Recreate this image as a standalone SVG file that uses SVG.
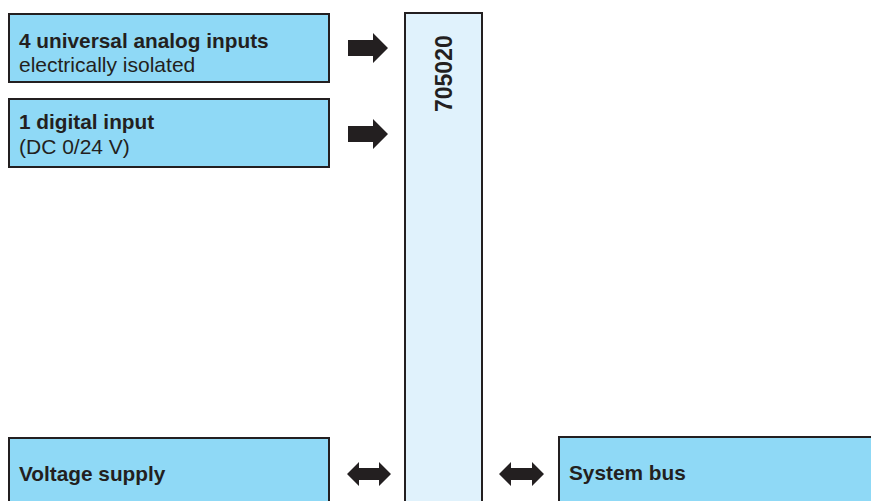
<svg xmlns="http://www.w3.org/2000/svg" width="871" height="501" viewBox="0 0 871 501">
<defs>
<style>
.box{fill:#8fd9f6;stroke:#231f20;stroke-width:2}
.bar{fill:#e0f2fc;stroke:#231f20;stroke-width:2}
.arr{fill:#231f20}
.b{font-family:"Liberation Sans",Arial,sans-serif;font-weight:bold;font-size:20.8px;fill:#231f20}
.r{font-family:"Liberation Sans",Arial,sans-serif;font-size:21px;fill:#231f20}
</style>
</defs>
<rect width="871" height="501" fill="#fff"/>
<g id="node-analog">
<rect class="box" x="9" y="14" width="320" height="68"/>
<text class="b" x="19" y="48">4 universal analog inputs</text>
<text class="r" x="19" y="72">electrically isolated</text>
</g>
<g id="node-digital">
<rect class="box" x="9" y="99" width="320" height="68"/>
<text class="b" x="19" y="129">1 digital input</text>
<text class="r" x="19" y="154">(DC 0/24 V)</text>
</g>
<g id="node-module">
<rect class="bar" x="405" y="13" width="77" height="500"/>
<text class="b" style="font-size:23px" transform="translate(452,112) rotate(-90)">705020</text>
</g>
<g id="node-voltage">
<rect class="box" x="9" y="438" width="320" height="70"/>
<text class="b" x="19" y="481">Voltage supply</text>
</g>
<g id="node-bus">
<rect class="box" x="559" y="437" width="320" height="70"/>
<text class="b" x="569" y="480">System bus</text>
</g>
<g id="connectors">
<polygon class="arr" points="348,40 373,40 373,33 388,48 373,63 373,56 348,56"/>
<polygon class="arr" points="348,126 373,126 373,119 388,134 373,149 373,142 348,142"/>
<polygon class="arr" points="347,474 359,462 359,468 379,468 379,462 391,474 379,486 379,480 359,480 359,486"/>
<polygon class="arr" points="499,474 511,462 511,468 532,468 532,462 544,474 532,486 532,480 511,480 511,486"/>
</g>
</svg>
